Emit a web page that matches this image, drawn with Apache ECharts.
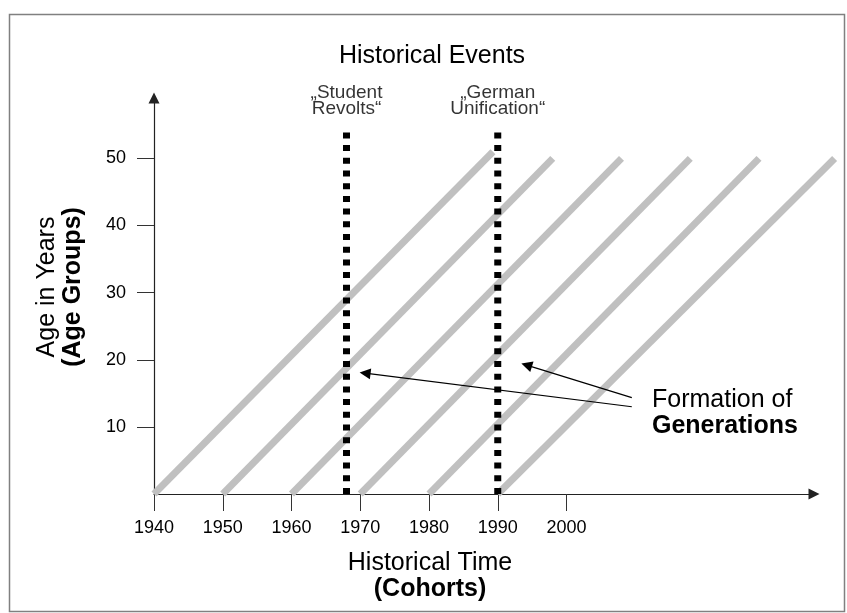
<!DOCTYPE html>
<html>
<head>
<meta charset="utf-8">
<script src="https://cdn.jsdelivr.net/npm/echarts@6/dist/echarts.min.js"></script>
<style>html,body{margin:0;padding:0;background:#fff;}#c{width:847px;height:613px;}</style>
</head>
<body>
<div id="c"></div>
<script>
// ---- data ----
const cohorts = [1940, 1950, 1960, 1970, 1980, 1990];          // birth years where each cohort line starts (age 0)
const lineEndYears = [1989.3, 1998, 2008, 2018, 2028, 2039];    // historical time at the upper end of each line
const lineEndAges = [51, 50, 50, 50, 50, 50];                   // age at the upper end of each line
const eventNames = ['„Student\nRevolts“', '„German\nUnification“'];
const eventYears = [1968, 1990];
const eventTopAge = 54.2;
const xTickLabels = [1940, 1950, 1960, 1970, 1980, 1990, 2000];
const yTickLabels = [10, 20, 30, 40, 50];
const arrowFrom = [[2009.5, 13.0], [2009.5, 14.35]];
const arrowTo = [[1970.7, 18.0], [1994.2, 19.2]];

const FONT = 'Liberation Sans, Arial, Helvetica, sans-serif';
const chart = echarts.init(document.getElementById('c'), null, {renderer: 'canvas'});

const series = [];
series.push({
  type: 'lines', coordinateSystem: 'cartesian2d', name: 'Cohorts', silent: true, clip: false, z: 2,
  symbol: 'none',
  lineStyle: {color: '#c0c0c0', width: 7, cap: 'butt', opacity: 1, curveness: 0},
  data: cohorts.map((c, i) => ({coords: [[c, 0], [lineEndYears[i], lineEndAges[i]]]}))
});
eventYears.forEach((y, i) => {
  series.push({
    type: 'line', name: eventNames[i], silent: true, clip: false,
    symbol: 'none', z: 3,
    lineStyle: {color: '#000', width: 7, type: [6, 6.7], cap: 'butt'},
    data: [[y, 0], [y, eventTopAge]]
  });
});
series.push({
  type: 'scatter', silent: true, z: 4, symbolSize: 1,
  itemStyle: {color: 'rgba(0,0,0,0)'},
  label: {show: true, position: 'top', distance: 13, formatter: '{b}',
    fontFamily: FONT, fontSize: 19, lineHeight: 16, color: '#000', align: 'center'},
  data: eventYears.map((y, i) => ({name: eventNames[i], value: [y, eventTopAge]}))
});
series.push({
  type: 'lines', coordinateSystem: 'cartesian2d', silent: true, z: 5, clip: false,
  symbol: ['none', 'triangle'], symbolSize: 11,
  lineStyle: {color: '#000', width: 1.2, opacity: 1},
  data: arrowFrom.map((f, i) => ({coords: [f, arrowTo[i]]}))
});

chart.setOption({
  animation: false,
  backgroundColor: '#fff',
  grid: {left: 154, right: 33, top: 98, bottom: 119, containLabel: false},
  xAxis: {
    type: 'value', min: 1940, max: 2036,
    axisLine: {show: true, onZero: true, symbol: ['none', 'triangle'], symbolSize: [11, 11],
      lineStyle: {color: '#222', width: 1.2}},
    axisTick: {show: true, length: 17, customValues: xTickLabels, lineStyle: {color: '#333', width: 1}},
    axisLabel: {show: true, customValues: xTickLabels, margin: 25, formatter: v => String(v),
      fontFamily: FONT, fontSize: 18, color: '#000'},
    splitLine: {show: false}
  },
  yAxis: {
    type: 'value', min: 0, max: 59,
    axisLine: {show: true, symbol: ['none', 'triangle'], symbolSize: [11, 11],
      lineStyle: {color: '#222', width: 1.2}},
    axisTick: {show: true, length: 17, customValues: yTickLabels, lineStyle: {color: '#333', width: 1}},
    axisLabel: {show: true, customValues: yTickLabels, margin: 28, formatter: v => String(v),
      fontFamily: FONT, fontSize: 18, color: '#000'},
    splitLine: {show: false}
  },
  graphic: [
    {type: 'rect', silent: true, z: 0,
      shape: {x: 9.5, y: 14.5, width: 835, height: 597},
      style: {fill: 'none', stroke: '#808080', lineWidth: 1.5}},
    {type: 'text', silent: true, x: 432, y: 56,
      style: {text: 'Historical Events', fontFamily: FONT, fontSize: 25, fill: '#000',
        align: 'center', verticalAlign: 'middle'}},
    {type: 'text', silent: true, x: 430, y: 576,
      style: {text: '{a|Historical Time}\n{b|(Cohorts)}', align: 'center', verticalAlign: 'middle',
        rich: {a: {fontFamily: FONT, fontSize: 25, lineHeight: 26, fill: '#000', align: 'center'},
               b: {fontFamily: FONT, fontSize: 25, lineHeight: 26, fontWeight: 'bold', fill: '#000', align: 'center'}}}},
    {type: 'text', silent: true, x: 60, y: 287, rotation: Math.PI / 2,
      style: {text: '{a|Age in Years}\n{b|(Age Groups)}', align: 'center', verticalAlign: 'middle',
        rich: {a: {fontFamily: FONT, fontSize: 25, lineHeight: 26, fill: '#000', align: 'center'},
               b: {fontFamily: FONT, fontSize: 25, lineHeight: 26, fontWeight: 'bold', fill: '#000', align: 'center'}}}},
    {type: 'text', silent: true, x: 652, y: 413,
      style: {text: '{a|Formation of}\n{b|Generations}', align: 'left', verticalAlign: 'middle',
        rich: {a: {fontFamily: FONT, fontSize: 25, lineHeight: 26, fill: '#000'},
               b: {fontFamily: FONT, fontSize: 25, lineHeight: 26, fontWeight: 'bold', fill: '#000'}}}}
  ],
  series: series
});
</script>
</body>
</html>
